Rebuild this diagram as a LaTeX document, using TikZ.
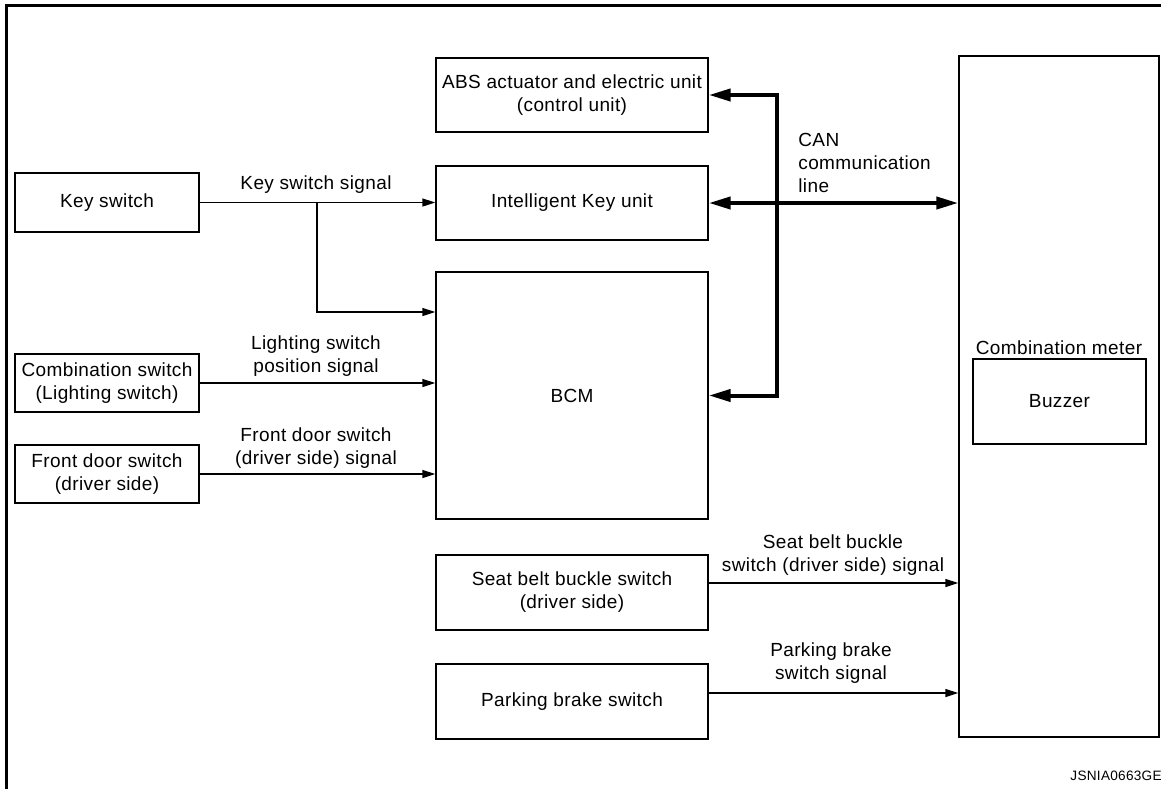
\documentclass[tikz,border=0pt]{standalone}
\usepackage{fontspec}
\setmainfont[LetterSpace=2]{Liberation Sans}
\usetikzlibrary{arrows.meta}

\tikzset{
    blk/.style={draw, line width=0.7pt, align=center, inner sep=0pt},
    sig/.style={line width=0.7pt, -{Triangle[length=6.5pt,width=4pt]}},
    can/.style={line width=2pt, {Triangle[length=11pt,width=6pt]}-{Triangle[length=11pt,width=6pt]}},
    lbl/.style={align=center, inner sep=0pt}
}

\begin{document}
\begin{tikzpicture}[x=0.5pt, y=-0.5pt, font=\fontsize{9.5}{11.5}\selectfont]
        \useasboundingbox (0,0) rectangle (1161,789);
        \draw[line width=1.5pt] (6,789) -- (6,5) -- (1161,5);

        \node[blk, minimum width=92pt, minimum height=29.5pt] (KS) at (107,202.5) {Key switch};
        \node[blk, minimum width=92pt, minimum height=29pt]   (CS) at (107,383)   {Combination switch\\(Lighting switch)};
        \node[blk, minimum width=92pt, minimum height=29pt]   (FD) at (107,474)   {Front door switch\\(driver side)};

        \node[blk, minimum width=136pt, minimum height=37pt]    (ABS) at (572,95)    {ABS actuator and electric unit\\(control unit)};
        \node[blk, minimum width=136pt, minimum height=37pt]    (IK)  at (572,203)   {Intelligent Key unit};
        \node[blk, minimum width=136pt, minimum height=123.5pt] (BCM) at (572,395.5) {BCM};
        \node[blk, minimum width=136pt, minimum height=37.5pt]  (SB)  at (572,592.5) {Seat belt buckle switch\\(driver side)};
        \node[blk, minimum width=136pt, minimum height=37.5pt]  (PB)  at (572,701.5) {Parking brake switch};

        \node[blk, minimum width=100pt, minimum height=340.5pt] (CM)  at (1059,396.5) {};
        \node[blk, minimum width=86.5pt, minimum height=42.5pt] (BZ)  at (1059.5,401.5) {Buzzer};
        \node[lbl] (CMt) at (1059,348) {Combination meter};

        \coordinate (BR)  at (317,203);
        \coordinate (BRd) at (317,312);
        \coordinate (CANx) at (777,200);
        \coordinate (SBo) at (708,583);
        \coordinate (PBo) at (708,693);

        \path[sig] (KS.east) edge (IK.west |- KS.east);
        \draw[sig] (BR) -- (BRd) -- (BCM.west |- BRd);
        \path[sig] (CS.east) edge (BCM.west |- CS.east);
        \path[sig] (FD.east) edge (BCM.west |- FD.east);
        \path[sig] (SBo) edge (CM.west |- SBo);
        \path[sig] (PBo) edge (CM.west |- PBo);

        \draw[can] (ABS.east) -| (CANx) |- (BCM.east);
        \draw[can] (IK.east) -- (CM.west |- IK.east);

        \node[lbl] (L1) at (316,185) {Key switch signal};
        \node[lbl] (L2) at (316,356) {Lighting switch\\position signal};
        \node[lbl] (L3) at (316,448) {Front door switch\\(driver side) signal};
        \node[lbl, align=left, anchor=west] (L4) at (798,163) {CAN\\communication\\line};
        \node[lbl] (L5) at (833,555) {Seat belt buckle\\switch (driver side) signal};
        \node[lbl] (L6) at (831,663) {Parking brake\\switch signal};

        \node[lbl, anchor=east, font=\fontsize{6.8}{7}\selectfont] (ID) at (1162,776) {JSNIA0663GE};
    \end{tikzpicture}
\end{document}
